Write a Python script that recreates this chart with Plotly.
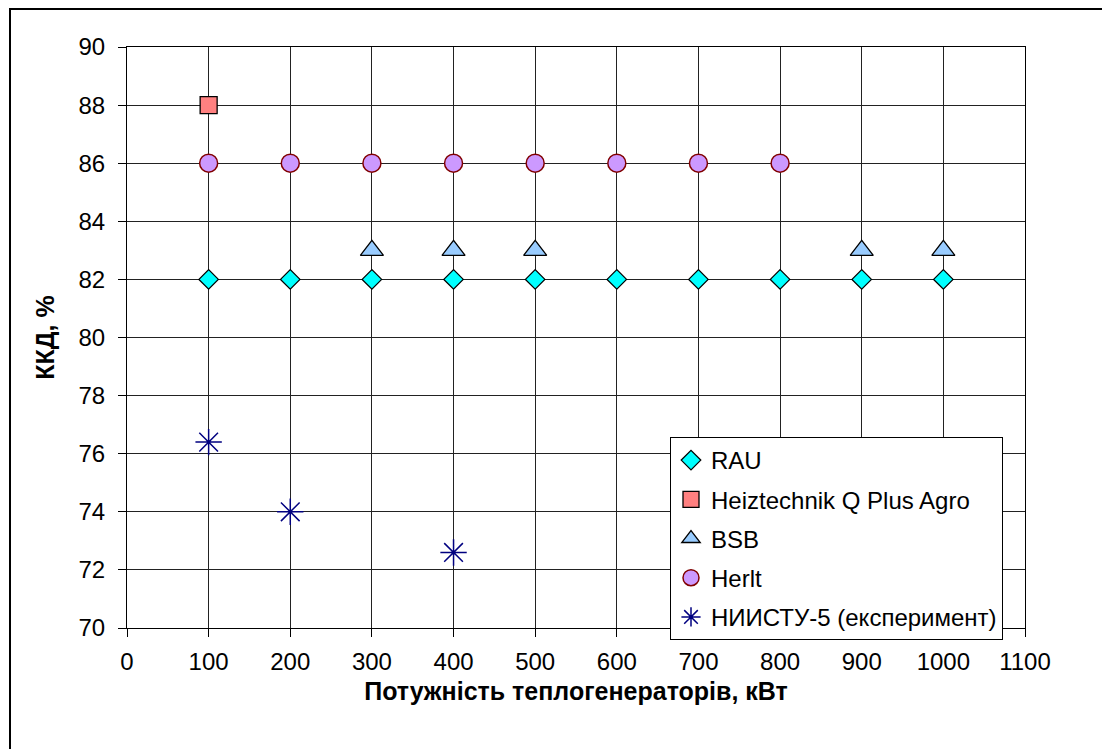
import plotly.graph_objects as go

# Data
rau_x = [100, 200, 300, 400, 500, 600, 700, 800, 900, 1000]
rau_y = [82, 82, 82, 82, 82, 82, 82, 82, 82, 82]
heiz_x = [100]
heiz_y = [88]
bsb_x = [300, 400, 500, 900, 1000]
bsb_y = [83, 83, 83, 83, 83]
herlt_x = [100, 200, 300, 400, 500, 600, 700, 800]
herlt_y = [86, 86, 86, 86, 86, 86, 86, 86]
niistu_x = [100, 200, 400]
niistu_y = [76.4, 74.0, 72.6]

names = ["RAU", "Heiztechnik Q Plus Agro", "BSB", "Herlt", "НИИСТУ-5 (експеримент)"]
x_title = "Потужність теплогенераторів, кВт"
y_title = "ККД, %"

FONT = "Liberation Sans, Arial, sans-serif"

fig = go.Figure()
fig.add_trace(go.Scatter(x=rau_x, y=rau_y, mode="markers", name=names[0], legendgroup="a",
                         marker=dict(symbol="diamond", size=15, color="#00FFFF",
                                     line=dict(color="black", width=1.3))))
fig.add_trace(go.Scatter(x=heiz_x, y=heiz_y, mode="markers", name=names[1], legendgroup="b",
                         marker=dict(symbol="square", size=17, color="#FF8080",
                                     line=dict(color="black", width=1.3))))
fig.add_trace(go.Scatter(x=bsb_x, y=bsb_y, mode="markers", name=names[2], legendgroup="c",
                         marker=dict(symbol="triangle-up", size=20, color="#99CCFF",
                                     line=dict(color="black", width=1.3))))
fig.add_trace(go.Scatter(x=herlt_x, y=herlt_y, mode="markers", name=names[3], legendgroup="d",
                         marker=dict(symbol="circle", size=18, color="#CC99FF",
                                     line=dict(color="#800000", width=1.5))))
fig.add_trace(go.Scatter(x=niistu_x, y=niistu_y, mode="markers", name=names[4], legendgroup="e",
                         marker=dict(symbol="asterisk-open", size=22, color="#000080",
                                     line=dict(color="#000080", width=1.5))))

# page has an 8px body margin: work in page pixels, convert to figure pixels
OFF = 8
L, R, T, B = 127, 1025, 47, 628
W, H = 1110 - OFF, 749 - OFF
pw, ph = R - L, B - T

def px(x):
    return (x - L) / pw

def py(y):
    return (B - y) / ph

fig.add_shape(type="rect", xref="paper", yref="paper",
              x0=px(10), x1=px(1300), y0=py(9), y1=py(1000),
              line=dict(color="black", width=2), fillcolor="rgba(0,0,0,0)", layer="below")

axis_common = dict(showline=True, linecolor="black", linewidth=1, mirror=True,
                   showgrid=True, gridcolor="#222222", gridwidth=1,
                   ticks="outside", ticklen=8, tickcolor="black", zeroline=False,
                   tickfont=dict(family=FONT, size=24, color="black"))

fig.update_layout(
    width=W, height=H,
    margin=dict(l=L - OFF, r=1110 - R, t=T - OFF, b=749 - B),
    paper_bgcolor="white", plot_bgcolor="white",
    font=dict(family=FONT, size=24, color="black"),
    xaxis=dict(range=[0, 1100], dtick=100, tick0=0, ticklabelstandoff=4,
               title=dict(text="<b>" + x_title + "</b>", font=dict(family=FONT, size=25), standoff=8),
               **axis_common),
    yaxis=dict(range=[70, 90], dtick=2, tick0=70, ticklabelstandoff=8,
               title=dict(text="<b>" + y_title + "</b>", font=dict(family=FONT, size=25), standoff=16),
               **axis_common),
    legend=dict(x=px(670), y=py(437), xanchor="left", yanchor="top",
                bgcolor="white", bordercolor="black", borderwidth=1,
                font=dict(family=FONT, size=24, color="black"),
                tracegroupgap=5, itemwidth=30),
    showlegend=True,
)

fig.write_html("out.html")
